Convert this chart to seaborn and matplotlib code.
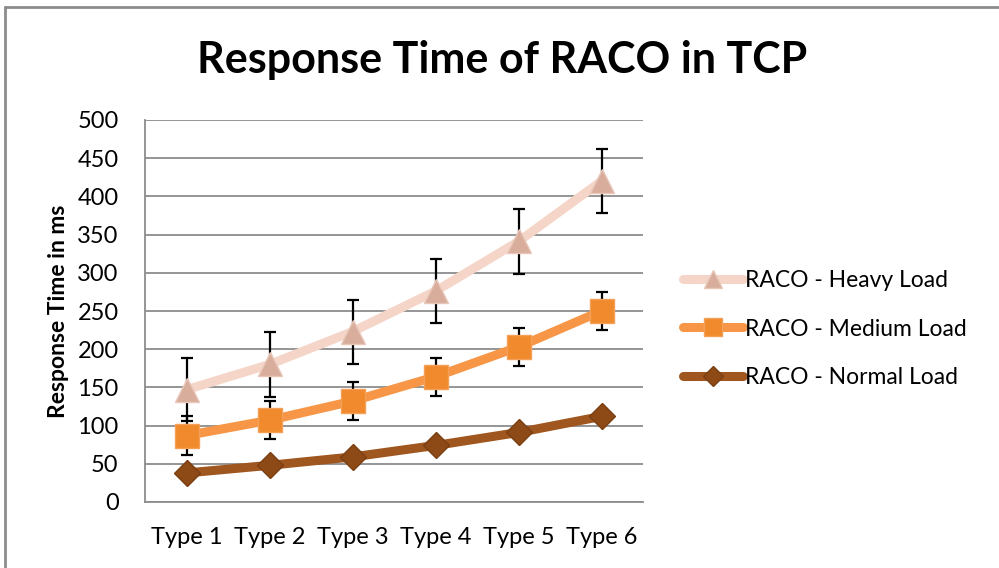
import matplotlib
matplotlib.use("Agg")
import matplotlib.pyplot as plt
import seaborn as sns
import pandas as pd
import numpy as np
from matplotlib.lines import Line2D

categories = ["Type 1", "Type 2", "Type 3", "Type 4", "Type 5", "Type 6"]
heavy = [147, 180, 223, 276, 341, 420]
heavy_err = [41, 42, 42, 42, 42, 42]
medium = [87, 107, 132, 164, 203, 250]
medium_err = [25, 25, 25, 25, 25, 25]
normal = [38, 48, 59, 74, 91, 112]
series_names = ["RACO - Heavy Load", "RACO - Medium Load", "RACO - Normal Load"]

sns.set_style("white")
plt.rcParams['font.family'] = ['Lato', 'DejaVu Sans']
plt.rcParams['text.color'] = 'black'

fig = plt.figure(figsize=(9.99, 5.68), dpi=100)
ax = fig.add_axes([145/999, 1-502/568, 498/999, 382/568])

df = pd.DataFrame({
    "cat": categories * 3,
    "x": list(range(len(categories))) * 3,
    "value": heavy + medium + normal,
    "series": [series_names[0]] * 6 + [series_names[1]] * 6 + [series_names[2]] * 6,
})

styles = {
    series_names[0]: dict(line="#F5D5C8", mfc="#D8AD9C", mec="#E8C6B8", marker="^", ms=17),
    series_names[1]: dict(line="#F79646", mfc="#F08A2C", mec="#F5A059", marker="s", ms=17),
    series_names[2]: dict(line="#A0561F", mfc="#8E4A16", mec="#7A3F12", marker="D", ms=13),
}

x = np.arange(len(categories))
ax.errorbar(x, heavy, yerr=heavy_err, fmt="none", ecolor="black", elinewidth=1.6,
            capsize=4.5, capthick=1.6, zorder=2)
ax.errorbar(x, medium, yerr=medium_err, fmt="none", ecolor="black", elinewidth=1.6,
            capsize=4.5, capthick=1.6, zorder=2)

for name in series_names:
    st = styles[name]
    sub = df[df.series == name]
    sns.lineplot(data=sub, x="x", y="value", ax=ax, color=st["line"], lw=6.5,
                 solid_capstyle="round", zorder=3, legend=False)
    ax.plot(sub["x"], sub["value"], linestyle="none", marker=st["marker"],
            ms=st["ms"], mfc=st["mfc"], mec=st["mec"], mew=1, zorder=4)

ax.set_xlim(-0.5, 5.5)
ax.set_ylim(0, 500)
ax.set_yticks(range(0, 501, 50))
ax.set_xticks(x)
ax.set_xticklabels(categories)
ax.yaxis.grid(True, color="#8C8C8C", lw=1.3)
ax.xaxis.grid(False)
ax.set_axisbelow(True)
for s in ["top", "right"]:
    ax.spines[s].set_visible(False)
for s in ["left", "bottom"]:
    ax.spines[s].set_color("#8C8C8C")
    ax.spines[s].set_linewidth(1.3)
ax.tick_params(axis="both", labelsize=17, length=0, colors="black")
ax.tick_params(axis="y", pad=19)
ax.tick_params(axis="x", pad=18)
ax.set_xlabel("")
ax.set_ylabel("Response Time in ms", fontsize=16.5, fontweight="bold", labelpad=6,
              color="black")

fig.text(502/999, 1-60/568, "Response Time of RACO in TCP", ha="center", va="center",
         fontsize=31, fontweight="bold", color="black")

handles = []
for name in series_names:
    st = styles[name]
    handles.append(Line2D([0], [0], color=st["line"], lw=6.5, solid_capstyle="round",
                          marker=st["marker"], ms=st["ms"] * 0.75, mfc=st["mfc"],
                          mec=st["mec"]))
leg = fig.legend(handles, series_names, loc="center left",
                 bbox_to_anchor=(683/999, 1-329/568), frameon=False, fontsize=16.5,
                 handlelength=2.6, handletextpad=0.1, labelspacing=1.2,
                 borderpad=0, borderaxespad=0)

fig.add_artist(Line2D([5/999, 5/999], [0, 1-7/568], color="#8C8C8C", lw=2,
                      transform=fig.transFigure))
fig.add_artist(Line2D([5/999, 1], [1-7/568, 1-7/568], color="#8C8C8C", lw=2,
                      transform=fig.transFigure))

fig.savefig("out.png", dpi=100)
